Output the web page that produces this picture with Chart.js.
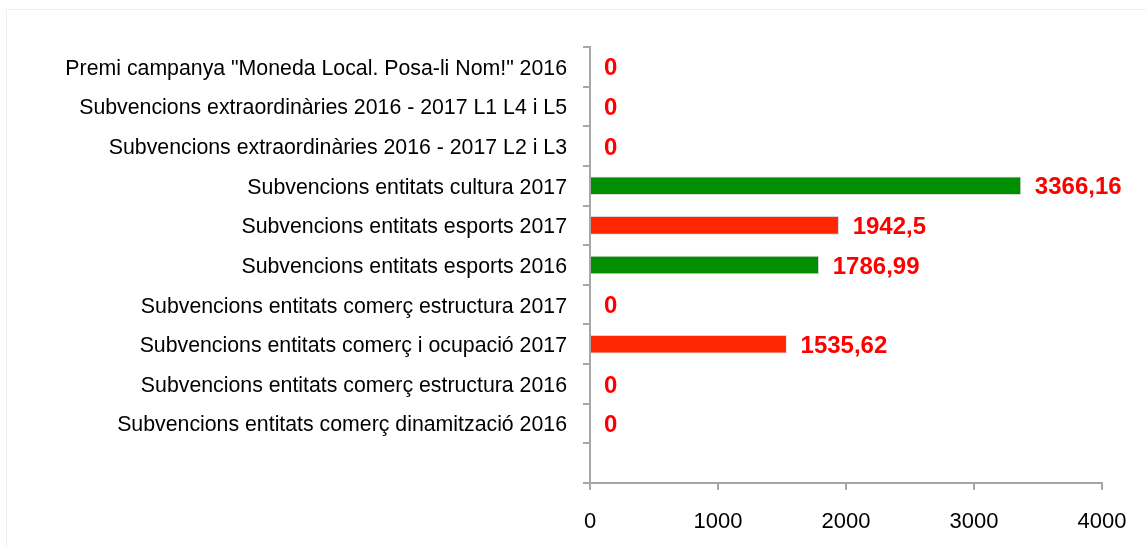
<!DOCTYPE html>
<html>
<head>
<meta charset="utf-8">
<script src="https://cdn.jsdelivr.net/npm/chart.js@4"></script>
<style>
  html, body { margin: 0; padding: 0; background: #fff; }
  #wrap { position: relative; width: 1146px; height: 547px; }
  #frame { position: absolute; left: 6px; top: 9px; width: 1140px; height: 538px; border-left: 1px solid #f0f0f0; border-top: 1px solid #f0f0f0; box-sizing: border-box; }
</style>
</head>
<body>
<div id="wrap">
  <div id="frame"></div>
  <canvas id="myChart" width="1146" height="547"></canvas>
</div>
<script>
// categories top to bottom (last slot is empty in the original)
const categories = [
    'Premi campanya "Moneda Local. Posa-li Nom!" 2016',
    'Subvencions extraordinàries 2016 - 2017 L1 L4 i L5',
    'Subvencions extraordinàries 2016 - 2017 L2 i L3',
    'Subvencions entitats cultura 2017',
    'Subvencions entitats esports 2017',
    'Subvencions entitats esports 2016',
    'Subvencions entitats comerç estructura 2017',
    'Subvencions entitats comerç i ocupació 2017',
    'Subvencions entitats comerç estructura 2016',
    'Subvencions entitats comerç dinamització 2016',
    ''
];
const values = [0, 0, 0, 3366.16, 1942.5, 1786.99, 0, 1535.62, 0, 0, null];
const valueLabels = ['0', '0', '0', '3366,16', '1942,5', '1786,99', '0', '1535,62', '0', '0', ''];
const barColors = ['#ff2600', '#ff2600', '#ff2600', '#008f00', '#ff2600', '#008f00', '#ff2600', '#ff2600', '#ff2600', '#ff2600', '#ff2600'];
const xTicks = [0, 1000, 2000, 3000, 4000];

const FONT = '"Liberation Sans", Arial, sans-serif';
const AXIS = '#a6a6a6';

// etiquetes de valor a la dreta de cada barra
const valueLabelPlugin = {
    id: 'valueLabels',
    afterDatasetsDraw(chart) {
        const ctx = chart.ctx;
        const meta = chart.getDatasetMeta(0);
        const xs = chart.scales.x;
        ctx.save();
        ctx.font = 'bold 24px ' + FONT;
        ctx.fillStyle = '#ff0000';
        ctx.textAlign = 'left';
        ctx.textBaseline = 'middle';
        meta.data.forEach((bar, i) => {
            if (values[i] === null) return;
            const x = xs.getPixelForValue(values[i]) + 14;
            ctx.fillText(valueLabels[i], x, bar.y + 2);
        });
        ctx.restore();
    }
};

const ctx = document.getElementById('myChart').getContext('2d');
const myChart = new Chart(ctx, {
    type: 'bar',
    data: {
        labels: categories,
        datasets: [{
            data: values,
            backgroundColor: barColors,
            borderColor: '#d9d9d9',
            borderWidth: 1,
            barThickness: 18
        }]
    },
    options: {
        indexAxis: 'y',
        responsive: false,
        animation: false,
        layout: { padding: { left: 0, right: 44, top: 47, bottom: 0 } },
        plugins: { legend: { display: false }, tooltip: { enabled: false } },
        scales: {
            x: {
                min: 0,
                max: 4000,
                afterBuildTicks: s => { s.ticks = xTicks.map(v => ({ value: v })); },
                afterFit: s => { s.height = 547 - 483; },
                border: { color: AXIS, width: 2 },
                grid: { drawOnChartArea: false, drawTicks: true, tickLength: 7, color: AXIS, lineWidth: 2 },
                ticks: { color: '#000', font: { family: FONT, size: 22 }, padding: 19, maxRotation: 0,
                         callback: v => String(v) }
            },
            y: {
                afterFit: s => { s.width = 590; },
                border: { color: AXIS, width: 2 },
                grid: { offset: true, drawOnChartArea: false, drawTicks: true, tickLength: 7, color: AXIS, lineWidth: 2 },
                ticks: { color: '#000', font: { family: FONT, size: 21.3 }, padding: 16, autoSkip: false, labelOffset: 2 }
            }
        }
    },
    plugins: [valueLabelPlugin]
});
</script>
</body>
</html>
